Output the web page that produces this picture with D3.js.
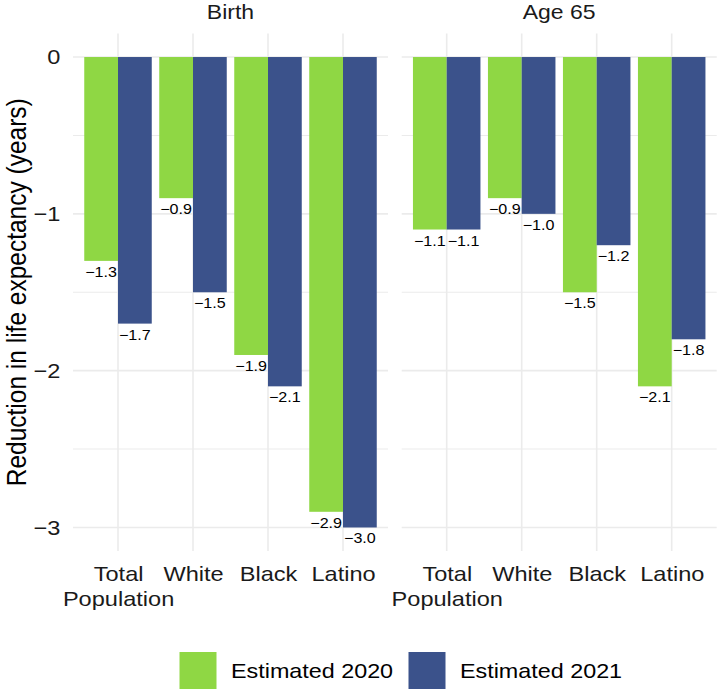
<!DOCTYPE html>
<html>
<head>
<meta charset="utf-8">
<script src="https://cdn.jsdelivr.net/npm/d3@7"></script>
<style>
body { margin: 0; background: #fff; }
</style>
</head>
<body>
<script>
// values
const panels = ["Birth", "Age 65"]
const groups = ["Total Population", "White", "Black", "Latino"]
const groupLines = [["Total", "Population"], ["White"], ["Black"], ["Latino"]]
const years = ["Estimated 2020", "Estimated 2021"]
const birth2020 = [-1.3, -0.9, -1.9, -2.9]
const birth2021 = [-1.7, -1.5, -2.1, -3.0]
const age2020 = [-1.1, -0.9, -1.5, -2.1]
const age2021 = [-1.1, -1.0, -1.2, -1.8]
const yTicks = [0, -1, -2, -3]
const yMinor = [-0.5, -1.5, -2.5]
const colors = ["#8FD744", "#3B528B"]

const panelValues = [[birth2020, birth2021], [age2020, age2021]]

// the reference is a bit wider than tall, so draw in narrower units and stretch
const S = 1.15
const X = px => px / S
const width = 720, height = 693
const font = "'Liberation Sans', Arial, Helvetica, sans-serif"
const grid = "#EBEBEB"

const panelLeft = [73, 401.7]
const panelW = 315
const panelTop = 33.5, panelBottom = 551

const svg = d3.select("body").append("svg")
    .attr("width", width)
    .attr("height", height)
    .attr("viewBox", [0, 0, X(width), height])
    .attr("preserveAspectRatio", "none")
    .style("font-family", font)

const y = d3.scaleLinear()
    .domain([-3.15, 0.15])
    .range([panelBottom, panelTop])

const fmt = d3.format(".1f")

panels.forEach((name, p) => {
    const x = d3.scalePoint()
        .domain(groups)
        .range([X(panelLeft[p]), X(panelLeft[p] + panelW)])
        .padding(0.6)

    const sub = d3.scaleBand()
        .domain(years)
        .range([-0.45 * x.step(), 0.45 * x.step()])

    const g = svg.append("g")

    // grid
    g.append("g")
        .selectAll("line")
        .data(yMinor)
        .join("line")
            .attr("x1", X(panelLeft[p]))
            .attr("x2", X(panelLeft[p] + panelW))
            .attr("y1", d => y(d))
            .attr("y2", d => y(d))
            .attr("stroke", grid)
            .attr("stroke-width", 0.9)

    g.append("g")
        .selectAll("line")
        .data(yTicks)
        .join("line")
            .attr("x1", X(panelLeft[p]))
            .attr("x2", X(panelLeft[p] + panelW))
            .attr("y1", d => y(d))
            .attr("y2", d => y(d))
            .attr("stroke", grid)
            .attr("stroke-width", 1.6)

    g.append("g")
        .selectAll("line")
        .data(groups)
        .join("line")
            .attr("x1", d => x(d))
            .attr("x2", d => x(d))
            .attr("y1", panelTop)
            .attr("y2", panelBottom)
            .attr("stroke", grid)
            .attr("stroke-width", 1.6 / S)

    // bars
    const bars = []
    years.forEach((yr, k) => {
        groups.forEach((gr, i) => {
            bars.push({ group: gr, year: yr, k: k, value: panelValues[p][k][i] })
        })
    })

    g.append("g")
        .selectAll("rect")
        .data(bars)
        .join("rect")
            .attr("x", d => x(d.group) + sub(d.year))
            .attr("width", sub.bandwidth())
            .attr("y", y(0))
            .attr("height", d => y(d.value) - y(0))
            .attr("fill", d => colors[d.k])

    g.append("g")
            .attr("font-size", 14)
            .attr("text-anchor", "middle")
            .attr("fill", "#000")
        .selectAll("text")
        .data(bars)
        .join("text")
            .attr("x", d => x(d.group) + sub(d.year) + sub.bandwidth() / 2)
            .attr("y", d => y(d.value) + 16)
            .text(d => fmt(d.value))

    // strip title
    g.append("text")
        .attr("x", X(panelLeft[p] + panelW / 2))
        .attr("y", 19)
        .attr("text-anchor", "middle")
        .attr("font-size", 20)
        .attr("fill", "#1a1a1a")
        .text(name)

    // x axis
    const xAxis = g.append("g")
        .attr("transform", `translate(0,${panelBottom})`)
        .call(d3.axisBottom(x).tickSize(0).tickPadding(15.4))
    xAxis.select(".domain").remove()
    xAxis.selectAll("text")
        .attr("font-size", 20.5)
        .attr("font-family", font)
        .attr("fill", "#1a1a1a")
        .each(function(d) {
            const lines = groupLines[groups.indexOf(d)]
            const t = d3.select(this).text(null)
            lines.forEach((l, j) => {
                t.append("tspan")
                    .attr("x", 0)
                    .attr("dy", j == 0 ? "0.71em" : 25)
                    .text(l)
            })
        })
})

// y axis (left panel only)
const yAxis = svg.append("g")
    .attr("transform", `translate(${X(panelLeft[0])},0)`)
    .call(d3.axisLeft(y).tickValues(yTicks).tickFormat(d3.format("d")).tickSize(0).tickPadding(10.9))
yAxis.select(".domain").remove()
yAxis.selectAll("text")
    .attr("font-size", 20.5)
    .attr("font-family", font)
    .attr("fill", "#1a1a1a")

svg.append("text")
    .attr("transform", `translate(${X(26.5)},${(panelTop + panelBottom) / 2}) rotate(-90)`)
    .attr("text-anchor", "middle")
    .attr("font-size", 24.5)
    .attr("fill", "#000")
    .text("Reduction in life expectancy (years)")

// legend
const legendX = [179.5, 408.5]
const legend = svg.append("g")
    .selectAll("g")
    .data(years)
    .join("g")

legend.append("rect")
    .attr("x", (d, i) => X(legendX[i]))
    .attr("y", 652)
    .attr("width", X(37))
    .attr("height", 37)
    .attr("fill", (d, i) => colors[i])

legend.append("text")
    .attr("x", (d, i) => X(legendX[i] + 51.5))
    .attr("y", 678)
    .attr("font-size", 20.3)
    .attr("fill", "#000")
    .text(d => d)
</script>
</body>
</html>
